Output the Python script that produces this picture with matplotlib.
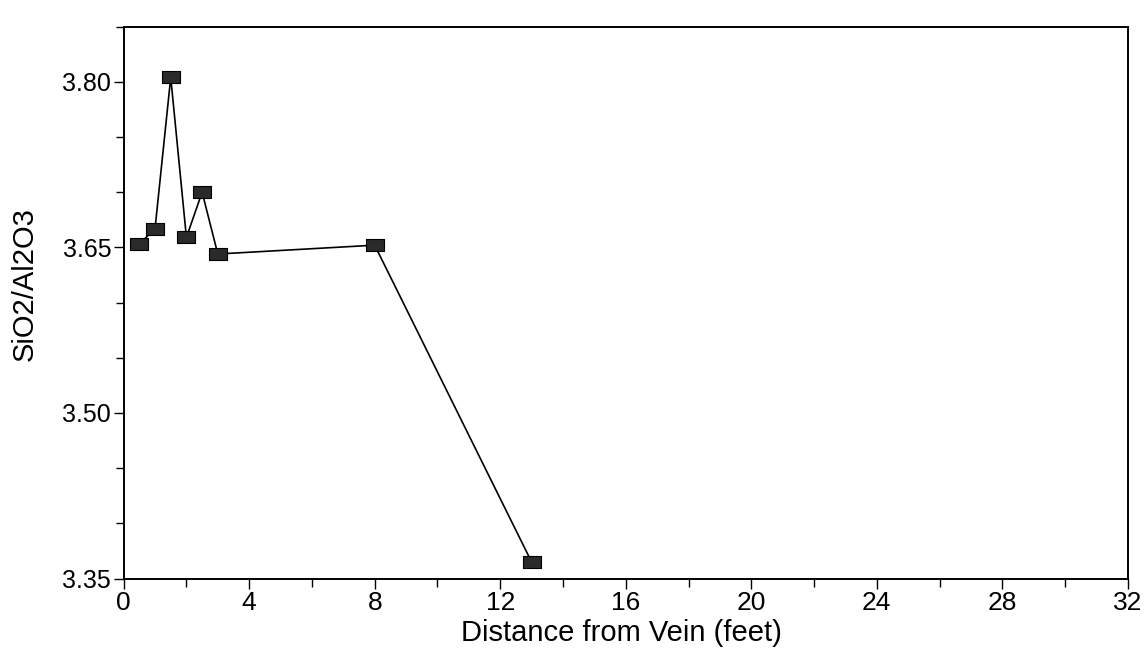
import matplotlib
matplotlib.use("Agg")
import matplotlib.pyplot as plt
from matplotlib.ticker import MultipleLocator, FormatStrFormatter

# Distance from the vein (feet) and SiO2/Al2O3 ratio of each sample
distance_ft = [0.5, 1.0, 1.5, 2.0, 2.5, 3.0, 8.0, 13.0]
sio2_al2o3 = [3.653, 3.667, 3.804, 3.659, 3.700, 3.644, 3.652, 3.365]

x_ticks = [0, 4, 8, 12, 16, 20, 24, 28, 32]
y_ticks = [3.35, 3.50, 3.65, 3.80]

plt.rcParams["font.family"] = ["Liberation Sans", "DejaVu Sans"]

fig = plt.figure(figsize=(11.45, 6.65), dpi=100)
ax = fig.add_axes([0.108, 0.13, 0.877, 0.83])

# flat rectangular marker, wider than tall
rect = [(-1.6, -1.0), (1.6, -1.0), (1.6, 1.0), (-1.6, 1.0), (-1.6, -1.0)]
ax.plot(distance_ft, sio2_al2o3, color="black", linewidth=1.2,
        marker=rect, markersize=13, markerfacecolor="#2a2a2a",
        markeredgecolor="black", markeredgewidth=0.8)

ax.set_xlim(0, 32)
ax.set_ylim(3.35, 3.85)
ax.set_xticks(x_ticks)
ax.set_yticks(y_ticks)
ax.xaxis.set_minor_locator(MultipleLocator(2))
ax.yaxis.set_minor_locator(MultipleLocator(0.05))
ax.yaxis.set_major_formatter(FormatStrFormatter("%.2f"))

ax.tick_params(axis="both", which="both", direction="out", top=False,
               right=False, width=1.0, colors="black")
ax.tick_params(axis="y", which="major", labelsize=18)
ax.tick_params(axis="x", which="major", labelsize=19)
ax.tick_params(axis="both", which="major", length=7, pad=2)
ax.tick_params(axis="both", which="minor", length=6)

for side in ax.spines.values():
    side.set_linewidth(1.4)
    side.set_color("black")

ax.set_xlabel("Distance from Vein (feet)", fontsize=21, va="top")
ax.set_ylabel("SiO2/Al2O3", fontsize=21)
ax.xaxis.set_label_coords(0.496, -0.074)
ax.yaxis.set_label_coords(-0.085, 0.533)

fig.savefig("out.png", dpi=100, facecolor="white")
